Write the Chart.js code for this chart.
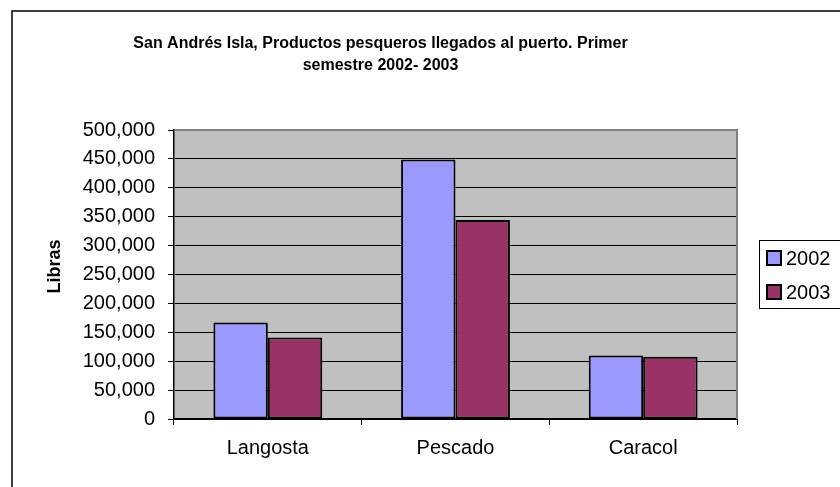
<!DOCTYPE html>
<html>
<head>
<meta charset="utf-8">
<script src="https://cdn.jsdelivr.net/npm/chart.js@4"></script>
<style>
  html, body { margin: 0; padding: 0; background: #fff; }
  #wrap { position: relative; width: 840px; height: 487px; }
</style>
</head>
<body>
<div id="wrap"><canvas id="c"></canvas></div>
<script>
const categories = ['Langosta', 'Pescado', 'Caracol'];
const seriesNames = ['2002', '2003'];
const values2002 = [167000, 449000, 110000];
const values2003 = [141000, 344500, 107500];
const titleLines = ['San Andrés Isla, Productos pesqueros llegados al puerto. Primer', 'semestre 2002- 2003'];
const yAxisTitle = 'Libras';
const yMin = 0, yMax = 500000, yStep = 50000;

const FONT = '"Liberation Sans", Arial, sans-serif';

const bgPlugin = {
  id: 'bg',
  beforeDraw(chart) {
    const { ctx, chartArea: a } = chart;
    ctx.save();
    ctx.fillStyle = '#C0C0C0';
    ctx.fillRect(a.left, a.top, a.right - a.left, a.bottom - a.top);
    ctx.restore();
  },
  afterDraw(chart) {
    const { ctx, chartArea: a } = chart;
    ctx.save();
    // plot border (gray) on top and right
    ctx.strokeStyle = '#808080';
    ctx.lineWidth = 2;
    ctx.beginPath();
    ctx.moveTo(a.left, a.top);
    ctx.lineTo(a.right, a.top);
    ctx.lineTo(a.right, a.bottom);
    ctx.stroke();
    // outer chart border
    ctx.strokeStyle = '#000';
    ctx.lineWidth = 1.5;
    ctx.strokeRect(12, 11, 900, 600);
    // y axis title
    ctx.save();
    ctx.translate(55, (a.top + a.bottom) / 2 - 8);
    ctx.rotate(-Math.PI / 2);
    ctx.fillStyle = '#000';
    ctx.font = 'bold 18px ' + FONT;
    ctx.textAlign = 'center';
    ctx.textBaseline = 'middle';
    ctx.fillText(yAxisTitle, 0, 0);
    ctx.restore();
    // legend box
    ctx.lineWidth = 1;
    ctx.strokeStyle = '#000';
    ctx.strokeRect(759.5, 240.5, 120, 68);
    chart.data.datasets.forEach((ds, i) => {
      const y = 258 + i * 34;
      ctx.fillStyle = ds.backgroundColor;
      ctx.fillRect(767, y - 7, 14, 14);
      ctx.lineWidth = 2;
      ctx.strokeStyle = '#000';
      ctx.strokeRect(767, y - 7, 14, 14);
      ctx.fillStyle = '#000';
      ctx.font = '20px ' + FONT;
      ctx.textBaseline = 'middle';
      ctx.textAlign = 'left';
      ctx.fillText(ds.label, 786, y + 1);
    });
    ctx.restore();
  }
};

new Chart(document.getElementById('c'), {
  type: 'bar',
  data: {
    labels: categories,
    datasets: [
      { label: seriesNames[0], data: values2002, backgroundColor: '#9999FF', borderColor: '#000', borderWidth: 2, borderSkipped: false },
      { label: seriesNames[1], data: values2003, backgroundColor: '#993366', borderColor: '#000', borderWidth: 2, borderSkipped: false }
    ]
  },
  options: {
    responsive: true,
    maintainAspectRatio: false,
    animation: false,
    devicePixelRatio: 1,
    layout: { padding: { left: 24, right: 103, top: 0, bottom: 0 } },
    datasets: { bar: { categoryPercentage: 0.58, barPercentage: 1 } },
    plugins: {
      legend: { display: false },
      tooltip: { enabled: false },
      title: {
        display: true,
        text: titleLines,
        color: '#000',
        font: { family: FONT, size: 16, weight: 'bold', lineHeight: 1.375 },
        padding: { top: 33, bottom: 53 }
      }
    },
    scales: {
      x: {
        offset: true,
        grid: { display: true, drawOnChartArea: false, drawTicks: true, tickLength: 6, color: '#000', offset: true },
        border: { display: true, color: '#000', width: 1.5 },
        ticks: { color: '#000', font: { family: FONT, size: 20 }, padding: 11 },
        afterFit(s) { s.height = 68; }
      },
      y: {
        min: yMin, max: yMax,
        grid: {
          color: (c) => (c.tick && c.tick.value === yMax ? '#808080' : '#000'),
          tickColor: '#000', tickLength: 6, lineWidth: 1
        },
        border: { display: true, color: '#000', width: 1.5 },
        ticks: {
          stepSize: yStep, color: '#000', font: { family: FONT, size: 20 }, padding: 13,
          callback: (v) => v.toLocaleString('en-US')
        },
        title: { display: false },
        afterFit(s) { s.width = 150; }
      }
    }
  },
  plugins: [bgPlugin]
});
</script>
</body>
</html>
